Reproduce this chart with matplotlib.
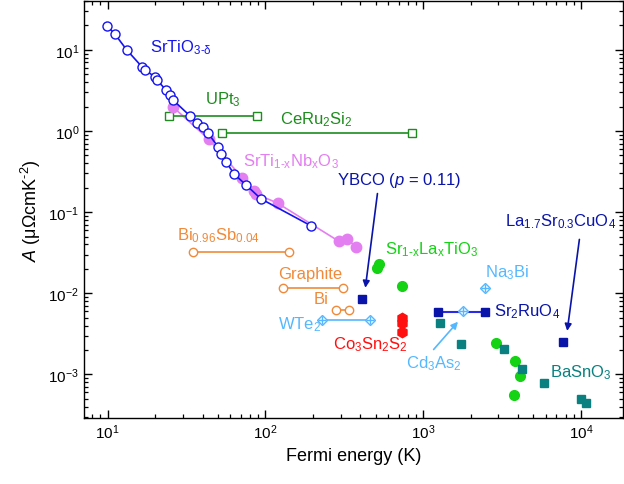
import numpy as np
import matplotlib as mpl
import matplotlib.pyplot as plt

mpl.rcParams['font.family'] = ['Liberation Sans', 'DejaVu Sans']
mpl.rcParams['mathtext.fontset'] = 'custom'
mpl.rcParams['mathtext.rm'] = 'Liberation Sans'
mpl.rcParams['mathtext.it'] = 'Liberation Sans:italic'
mpl.rcParams['mathtext.bf'] = 'Liberation Sans:bold'
fs = 12

# --- data (Fermi energy in K, A in micro-ohm cm K^-2) ---
sto_tf = [9.9, 11.1, 13.2, 16.5, 17.2, 19.9, 20.5, 23.4, 24.8, 25.9, 33.2, 36.8,
          40.2, 43.2, 50.0, 52.2, 56.2, 63.1, 75.2, 93.6, 194]
sto_a = [19.8, 15.7, 10.0, 6.18, 5.68, 4.65, 4.27, 3.21, 2.79, 2.42, 1.54, 1.26,
         1.12, 0.95, 0.64, 0.52, 0.42, 0.297, 0.217, 0.146, 0.068]

nb_tf = [26.0, 43.9, 71.3, 84.6, 87.1, 119.5, 293.5, 327, 378]
nb_a = [1.97, 0.786, 0.265, 0.18, 0.168, 0.129, 0.0435, 0.047, 0.0371]

upt3_tf = [24.5, 87.9]
upt3_a = [1.53, 1.53]
ceru_tf = [52.8, 851]
ceru_a = [0.94, 0.94]

bisb_tf = [34.9, 141]
bisb_a = [0.0323, 0.0323]
graphite_tf = [128.5, 311]
graphite_a = [0.0117, 0.0117]
bi_tf = [279, 340]
bi_a = [0.00628, 0.00628]

wte2_tf = [230, 459]
wte2_a = [0.00473, 0.00473]
cd3as2_tf = [1778]
cd3as2_a = [0.0060]
na3bi_tf = [2460]
na3bi_a = [0.0116]

ybco_tf = [410]
ybco_a = [0.0084]
sr2ruo4_tf = [1245, 2460]
sr2ruo4_a = [0.00589, 0.00589]
lsco_tf = [7710]
lsco_a = [0.00251]

co3sn2s2_tf = [740, 740, 740]
co3sn2s2_a = [0.0049, 0.0043, 0.0033]

sla_tf = [526, 507, 736, 2918, 3851, 4141, 3795]
sla_a = [0.0232, 0.0205, 0.0123, 0.00247, 0.00147, 0.00096, 0.000564]

basno3_tf = [1276, 1734, 3260, 4265, 5845, 10090, 10840]
basno3_a = [0.00435, 0.00239, 0.00208, 0.00116, 0.00079, 0.000504, 0.000446]

# colours
c_sto = '#1414f0'
c_nb = '#e37ff0'
c_heavy = '#1e8c1e'
c_or = '#f08a3a'
c_lb = '#55b8ff'
c_db = '#0a14a8'
c_red = '#ff1010'
c_gr = '#14d214'
c_teal = '#0a8080'

fig = plt.figure(figsize=(6.24, 4.85), dpi=100)
ax = fig.add_axes([84 / 624, 1 - 419 / 485, 539 / 624, 417 / 485])

ax.plot(nb_tf, nb_a, '-', color=c_nb, lw=1.2, zorder=2)
ax.plot(nb_tf, nb_a, 'o', color=c_nb, ms=7.5, mec=c_nb, zorder=3)
ax.plot(sto_tf, sto_a, '-o', color=c_sto, lw=1.2, ms=6.5, mfc='white', mew=1.0, zorder=4)

ax.plot(upt3_tf, upt3_a, '-s', color=c_heavy, lw=1.2, ms=5.5, mfc='white', mew=1.0)
ax.plot(ceru_tf, ceru_a, '-s', color=c_heavy, lw=1.2, ms=5.5, mfc='white', mew=1.0)

for tf, a in [(bisb_tf, bisb_a), (graphite_tf, graphite_a), (bi_tf, bi_a)]:
    ax.plot(tf, a, '-o', color=c_or, lw=1.2, ms=6, mfc='white', mew=1.0)

for tf, a in [(wte2_tf, wte2_a), (cd3as2_tf, cd3as2_a), (na3bi_tf, na3bi_a)]:
    ax.plot(tf, a, '-D', color=c_lb, lw=1.2, ms=5.5, mfc='white', mew=1.0, zorder=5)
    ax.plot(tf, a, '+', color=c_lb, ms=6, mew=1.0, zorder=6)

ax.plot(sr2ruo4_tf, sr2ruo4_a, '-', color='#2a2ae8', lw=1.5, zorder=3)
ax.plot(sr2ruo4_tf, sr2ruo4_a, 's', color=c_db, ms=6, zorder=4)
ax.plot(ybco_tf, ybco_a, 's', color=c_db, ms=6)
ax.plot(lsco_tf, lsco_a, 's', color=c_db, ms=6)

ax.plot(co3sn2s2_tf, co3sn2s2_a, 'h', color=c_red, ms=7.5, ls='none')
ax.plot(sla_tf, sla_a, 'o', color=c_gr, ms=7, ls='none')
ax.plot(basno3_tf, basno3_a, 's', color=c_teal, ms=6, ls='none', zorder=5)

# arrows
arr = dict(arrowstyle='-|>', lw=1.2, mutation_scale=10)
ax.annotate('', xy=(428, 0.0108), xytext=(516, 0.183),
            arrowprops=dict(color=c_db, **arr))
ax.annotate('', xy=(8150, 0.00318), xytext=(9840, 0.0498),
            arrowprops=dict(color=c_db, **arr))
ax.annotate('', xy=(1708, 0.00473), xytext=(1135, 0.00191),
            arrowprops=dict(color=c_lb, **arr))

# labels
lab = dict(fontsize=fs, ha='left', va='center')
ax.text(18.5, 10.9, r'SrTiO$_{\text{3-δ}}$', color=c_sto, **lab)
ax.text(41.4, 2.49, r'UPt$_{\mathregular{3}}$', color=c_heavy, **lab)
ax.text(123.6, 1.41, r'CeRu$_{\mathregular{2}}$Si$_{\mathregular{2}}$', color=c_heavy, **lab)
ax.text(72.1, 0.43, r'SrTi$_{\text{1-x}}$Nb$_{\mathregular{x}}$O$_{\mathregular{3}}$', color=c_nb, **lab)
ax.text(284, 0.25, r'YBCO ($p$ = 0.11)', color=c_db, **lab)
ax.text(27.5, 0.0527, r'Bi$_{\mathregular{0.96}}$Sb$_{\mathregular{0.04}}$', color=c_or, **lab)
ax.text(120, 0.0174, 'Graphite', color=c_or, **lab)
ax.text(203, 0.0086, 'Bi', color=c_or, **lab)
ax.text(120, 0.00423, r'WTe$_{\mathregular{2}}$', color=c_lb, **lab)
ax.text(268, 0.00239, r'Co$_{\mathregular{3}}$Sn$_{\mathregular{2}}$S$_{\mathregular{2}}$', color=c_red, **lab)
ax.text(571, 0.0354, r'Sr$_{\text{1-x}}$La$_{\mathregular{x}}$TiO$_{\mathregular{3}}$', color=c_gr, **lab)
ax.text(2460, 0.0185, r'Na$_{\mathregular{3}}$Bi', color=c_lb, **lab)
ax.text(2806, 0.0061, r'Sr$_{\mathregular{2}}$RuO$_{\mathregular{4}}$', color=c_db, **lab)
ax.text(776, 0.0014, r'Cd$_{\mathregular{3}}$As$_{\mathregular{2}}$', color=c_lb, **lab)
ax.text(3296, 0.0784, r'La$_{\mathregular{1.7}}$Sr$_{\mathregular{0.3}}$CuO$_{\mathregular{4}}$', color=c_db, **lab)
ax.text(6355, 0.00108, r'BaSnO$_{\mathregular{3}}$', color=c_teal, **lab)

ax.set_xscale('log')
ax.set_yscale('log')
ax.set_xlim(7.08, 1.85e4)
ax.set_ylim(2.9e-4, 40)
ax.set_xlabel('Fermi energy (K)', fontsize=fs + 1)
ax.set_ylabel(r'$A$ (μΩcmK$^{\text{-2}}$)', fontsize=fs + 1)
ax.tick_params(which='both', direction='in', top=True, right=True, labelsize=fs - 1)
ax.tick_params(which='major', length=5.5, width=1)
ax.tick_params(which='minor', length=3.2, width=0.9)
ax.yaxis.set_minor_locator(mpl.ticker.LogLocator(base=10, subs=np.arange(2, 10), numticks=20))
ax.yaxis.set_minor_formatter(mpl.ticker.NullFormatter())
ax.xaxis.set_minor_formatter(mpl.ticker.NullFormatter())
for s in ax.spines.values():
    s.set_linewidth(1.0)

fig.savefig('out.png', dpi=100)
